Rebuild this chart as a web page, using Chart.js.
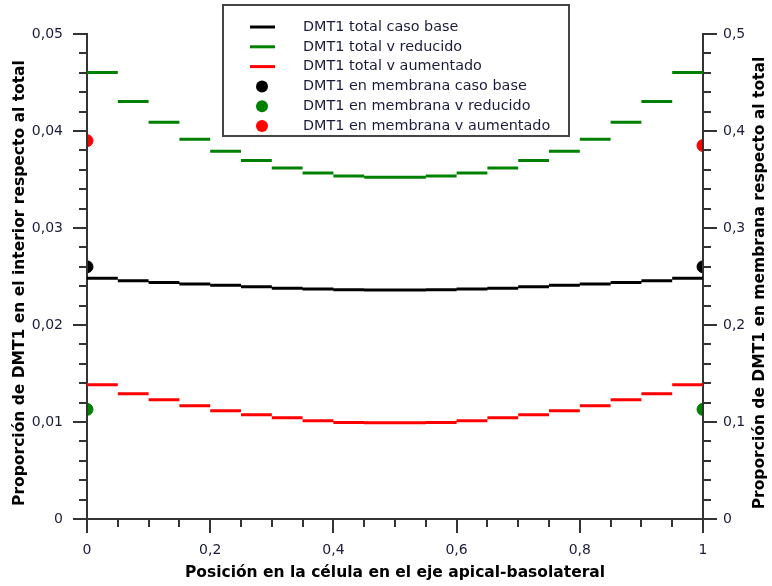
<!DOCTYPE html>
<html>
<head>
<meta charset="utf-8">
<script src="https://cdn.jsdelivr.net/npm/chart.js@4"></script>
<style>
	html, body { margin: 0; padding: 0; background: #fff; }
	#wrap { width: 772px; height: 586px; }
</style>
</head>
<body>
<div id="wrap"><canvas id="myChart" width="772" height="586"></canvas></div>
<script>
// 구간 경계 (x축, 세포 내 위치)
var cellEdges = [0, 0.05, 0.1, 0.15, 0.2, 0.25, 0.3, 0.35, 0.4, 0.45, 0.5,
	0.55, 0.6, 0.65, 0.7, 0.75, 0.8, 0.85, 0.9, 0.95, 1];

// 구간별 내부 비율 (왼쪽 축)
var totalBase = [0.02482, 0.02456, 0.02438, 0.02423, 0.0241, 0.02394, 0.0238, 0.0237, 0.02364, 0.0236,
	0.0236, 0.02364, 0.0237, 0.0238, 0.02394, 0.0241, 0.02423, 0.02438, 0.02456, 0.02482];
var totalReducido = [0.04603, 0.04305, 0.04089, 0.03914, 0.0379, 0.03697, 0.03618, 0.03566, 0.03536, 0.03522,
	0.03522, 0.03536, 0.03566, 0.03618, 0.03697, 0.0379, 0.03914, 0.04089, 0.04305, 0.04603];
var totalAumentado = [0.01383, 0.0129, 0.01229, 0.01167, 0.01115, 0.01074, 0.01043, 0.01012, 0.00996, 0.00992,
	0.00992, 0.00996, 0.01012, 0.01043, 0.01074, 0.01115, 0.01167, 0.01229, 0.0129, 0.01383];

// 막 위의 비율 (오른쪽 축)
var membPos = [0, 1];
var membBase = [0.26, 0.26];
var membReducido = [0.113, 0.113];
var membAumentado = [0.39, 0.385];

// 눈금 레이블
var xMajor = [0, 0.2, 0.4, 0.6, 0.8, 1];
var yMajor = [0, 0.01, 0.02, 0.03, 0.04, 0.05];
var y2Major = [0, 0.1, 0.2, 0.3, 0.4, 0.5];

var labelNames = ['DMT1 total caso base', 'DMT1 total v reducido', 'DMT1 total v aumentado',
	'DMT1 en membrana caso base', 'DMT1 en membrana v reducido', 'DMT1 en membrana v aumentado'];

Chart.defaults.font.family = "'DejaVu Sans', sans-serif";

// 구간마다 수평 선분 만들기
function makeSteps(values) {
	var pts = [];
	for (var i = 0; i < values.length; i++) {
		pts.push({ x: cellEdges[i], y: values[i] });
		pts.push({ x: cellEdges[i + 1], y: values[i] });
		pts.push({ x: cellEdges[i + 1], y: null });
	}
	return pts;
}

function makePoints(values) {
	return values.map(function(v, i) { return { x: membPos[i], y: v }; });
}

function inList(list, v) {
	for (var i = 0; i < list.length; i++) {
		if (Math.abs(list[i] - v) < 1e-9) return true;
	}
	return false;
}

function tickLabel(list) {
	return function(v) {
		return inList(list, v) ? String(v).replace('.', ',') : '';
	};
}

// 주 눈금, 범례, 세로축 제목 그리기
var axisDecor = {
	id: 'axisDecor',
	afterDraw: function(chart) {
		var c = chart.ctx;
		c.save();
		c.strokeStyle = '#333';
		c.lineWidth = 2;
		var majors = { x: xMajor, y: yMajor, y2: y2Major };
		['x', 'y', 'y2'].forEach(function(id) {
			var s = chart.scales[id];
			majors[id].forEach(function(v) {
				var p = Math.round(s.getPixelForValue(v));
				c.beginPath();
				if (id === 'x') { c.moveTo(p, s.top); c.lineTo(p, s.top + 14); }
				else if (id === 'y') { c.moveTo(s.right, p); c.lineTo(s.right - 14, p); }
				else { c.moveTo(s.left, p); c.lineTo(s.left + 14, p); }
				c.stroke();
			});
		});

		// 범례
		c.fillStyle = '#fff';
		c.fillRect(223, 5, 346, 131);
		c.strokeStyle = '#444';
		c.lineWidth = 2;
		c.strokeRect(223, 5, 346, 131);
		c.font = "14.4px 'DejaVu Sans'";
		c.textBaseline = 'middle';
		chart.data.datasets.forEach(function(ds, i) {
			var y = 27 + i * 19.8;
			if (ds.showLine === false) {
				c.fillStyle = ds.backgroundColor;
				c.beginPath();
				c.arc(262, y, 6, 0, Math.PI * 2);
				c.fill();
			} else {
				c.strokeStyle = ds.borderColor;
				c.lineWidth = 3;
				c.beginPath();
				c.moveTo(250, y);
				c.lineTo(275, y);
				c.stroke();
			}
			c.fillStyle = '#1c1c3c';
			c.textAlign = 'left';
			c.fillText(ds.label, 303, y);
		});

		// 세로축 제목
		c.font = "bold 15.5px 'DejaVu Sans'";
		c.fillStyle = '#000';
		c.textAlign = 'center';
		[[20, 'Proporción de DMT1 en el interior respecto al total'],
		 [760, 'Proporción de DMT1 en membrana respecto al total']].forEach(function(t) {
			c.save();
			c.translate(t[0], 283);
			c.rotate(-Math.PI / 2);
			c.fillText(t[1], 0, 0);
			c.restore();
		});
		c.restore();
	}
};

var ctx = document.getElementById('myChart').getContext('2d');

var lineColors = ['#000000', '#008000', '#ff0000'];
var lineSets = [totalBase, totalReducido, totalAumentado];
var pointSets = [membBase, membReducido, membAumentado];
var datasets = [];

lineSets.forEach(function(vals, i) {
	datasets.push({
		label: labelNames[i],
		data: makeSteps(vals),
		borderColor: lineColors[i],
		backgroundColor: lineColors[i],
		borderWidth: 3,
		pointRadius: 0,
		spanGaps: false,
		yAxisID: 'y'
	});
});
pointSets.forEach(function(vals, i) {
	datasets.push({
		label: labelNames[i + 3],
		data: makePoints(vals),
		showLine: false,
		borderColor: lineColors[i],
		backgroundColor: lineColors[i],
		borderWidth: 1,
		pointRadius: 6,
		clip: { left: -1, right: -1, top: 0, bottom: 0 }, // 축 안쪽에서 반원으로 자르기
		yAxisID: 'y2'
	});
});

var axisGrid = { drawOnChartArea: false, drawTicks: true, tickLength: 8, color: '#333', lineWidth: 2 };
var axisBorder = { display: true, color: '#333', width: 2 };
var tickFont = { size: 14 };

window.myChart = new Chart(ctx, {
	type: 'line',
	data: { datasets: datasets },
	options: {
		responsive: false,
		animation: false,
		layout: { padding: { top: 34, left: 0, right: 0, bottom: 0 } },
		plugins: { legend: { display: false }, tooltip: { enabled: false } },
		scales: {
			x: {
				type: 'linear', min: 0, max: 1,
				grid: axisGrid, border: axisBorder,
				ticks: { stepSize: 0.05, autoSkip: false, maxRotation: 0, padding: 15,
					color: '#1c1c3c', font: tickFont, callback: tickLabel(xMajor) },
				title: { display: true, text: 'Posición en la célula en el eje apical-basolateral',
					color: '#000', font: { size: 15.5, weight: 'bold' }, padding: { top: 0, bottom: 4 } },
				afterFit: function(s) { s.height = 67; }
			},
			y: {
				type: 'linear', position: 'left', min: 0, max: 0.05,
				grid: axisGrid, border: axisBorder,
				ticks: { stepSize: 0.002, autoSkip: false, padding: 16, maxTicksLimit: 100,
					color: '#1c1c3c', font: tickFont, callback: tickLabel(yMajor) },
				afterFit: function(s) { s.width = 87; }
			},
			y2: {
				type: 'linear', position: 'right', min: 0, max: 0.5,
				grid: axisGrid, border: axisBorder,
				ticks: { stepSize: 0.02, autoSkip: false, padding: 12, maxTicksLimit: 100,
					color: '#1c1c3c', font: tickFont, callback: tickLabel(y2Major) },
				afterFit: function(s) { s.width = 69; }
			}
		}
	},
	plugins: [axisDecor]
});
</script>
</body>
</html>
